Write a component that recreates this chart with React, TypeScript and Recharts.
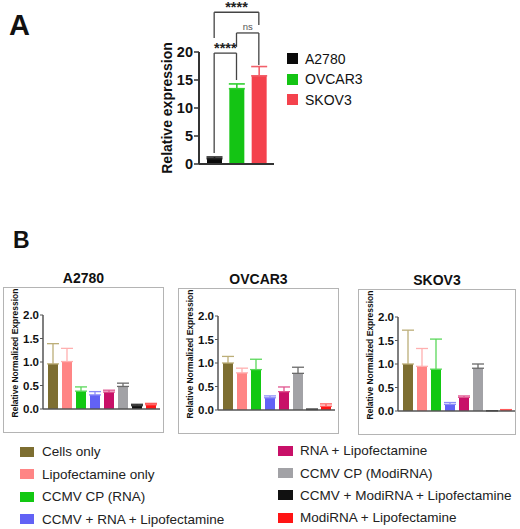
import { BarChart, Bar, XAxis, YAxis, ErrorBar, ReferenceLine } from "recharts";

const FONT = "'Liberation Sans', Arial, Helvetica, sans-serif";

// ---- panel A: relative expression per cell line
const cellLines = ["A2780", "OVCAR3", "SKOV3"];
const cellLineExpression = [0.95, 13.45, 15.75];
const cellLineSem = [0.3, 0.85, 1.65];
const cellLineColors = ["#0a0a0a", "#14c414", "#f4424d"];
const cellLineErrColors = ["#222222", "#2fd02f", "#f2606a"];
const expressionTicks = [0, 5, 10, 15, 20];

// significance brackets (y in data units)
const brackets = [
  { from: "A2780", to: "SKOV3", y: 27.1, leftEnd: 22.5, rightEnd: 24.8, text: "****" },
  { from: "OVCAR3", to: "SKOV3", y: 23.4, leftEnd: 20.9, rightEnd: 17.7, text: "ns" },
  { from: "A2780", to: "OVCAR3", y: 19.8, leftEnd: 1.96, rightEnd: 15.0, text: "****" },
];

// ---- panel B: normalized expression per treatment
const treatments = [
  "Cells only",
  "Lipofectamine only",
  "CCMV CP (RNA)",
  "CCMV + RNA + Lipofectamine",
  "RNA + Lipofectamine",
  "CCMV CP (ModiRNA)",
  "CCMV + ModiRNA + Lipofectamine",
  "ModiRNA + Lipofectamine",
];
const treatmentColors = ["#7d6e31", "#ff8585", "#12c812", "#6262f5", "#c81068", "#a2a2a6", "#111111", "#ff1414"];
const treatmentErrColors = ["#bcae78", "#ffb0b0", "#5ad85a", "#8c8cf8", "#e0548f", "#6a6a6a", "#333333", "#ff5a5a"];

const a2780Values = [0.96, 1.01, 0.38, 0.3, 0.36, 0.48, 0.07, 0.09];
const a2780Sem = [0.43, 0.28, 0.09, 0.07, 0.04, 0.07, 0.03, 0.03];
const ovcar3Values = [1.0, 0.79, 0.86, 0.26, 0.39, 0.78, 0.01, 0.08];
const ovcar3Sem = [0.14, 0.1, 0.22, 0.04, 0.1, 0.13, 0.01, 0.05];
const skov3Values = [1.0, 0.95, 0.89, 0.14, 0.29, 0.91, 0.005, 0.02];
const skov3Sem = [0.72, 0.38, 0.64, 0.04, 0.03, 0.09, 0.003, 0.01];
const normTicks = [0, 0.5, 1, 1.5, 2];

// one key per category so every bar gets its own colour and error bar colour
function buildRows(names: string[], values: number[], sems: number[]) {
  return names.map((name, i) => {
    const row: Record<string, unknown> = { name };
    row["v" + i] = values[i];
    row["e" + i] = [0, sems[i]];
    return row;
  });
}

function PanelB({ title, left, top, width, values, sems }: {
  title: string; left: number; top: number; width: number; values: number[]; sems: number[];
}) {
  const rows = buildRows(treatments, values, sems);
  return (
    <>
      <div style={{ position: "absolute", left, top: top - 17, width, textAlign: "center", fontSize: 14, fontWeight: 700, lineHeight: "16px", color: "#111" }}>
        {title}
      </div>
      <div style={{ position: "absolute", left, top, width, height: 146, border: "1px solid #b4b4b4", boxSizing: "border-box" }}>
        <div style={{ position: "absolute", left: 11, top: 65, transform: "translate(-50%,-50%) rotate(-90deg)", whiteSpace: "nowrap", fontSize: 8.5, fontWeight: 700, color: "#111" }}>
          Relative Normalized Expression
        </div>
        <div style={{ position: "absolute", left: -1, top: -1 }}>
          <BarChart width={width} height={146} data={rows} margin={{ top: 28, right: width - 157, bottom: 20, left: 0 }}>
            <XAxis dataKey="name" type="category" tick={false} tickLine={false} height={4}
              axisLine={{ stroke: "#555", strokeWidth: 1.5 }} padding={{ left: 3, right: 2 }} />
            <YAxis width={40} domain={[0, 2]} ticks={normTicks} interval={0}
              tickFormatter={(v: number) => v.toFixed(1)} tickSize={3} tickMargin={1}
              tick={{ fontSize: 11.5, fontWeight: 700, fill: "#111" }}
              axisLine={{ stroke: "#555", strokeWidth: 1.5 }} tickLine={{ stroke: "#555" }} />
            {treatments.map((t, i) => (
              <Bar key={t} dataKey={"v" + i} stackId="s" fill={treatmentColors[i]} barSize={10} isAnimationActive={false}>
                <ErrorBar dataKey={"e" + i} width={6} stroke={treatmentErrColors[i]} strokeWidth={1.3} direction="y" isAnimationActive={false} />
              </Bar>
            ))}
          </BarChart>
        </div>
      </div>
    </>
  );
}

export default function App() {
  const rowsA = buildRows(cellLines, cellLineExpression, cellLineSem);

  return (
    <div style={{ position: "absolute", left: 0, top: 0, width: 520, height: 529, background: "#fff", fontFamily: FONT, color: "#111", overflow: "hidden" }}>
      <div style={{ position: "absolute", left: 9, top: 11, fontSize: 29, fontWeight: 700, lineHeight: "29px" }}>A</div>

      <div style={{ position: "absolute", left: 150, top: 0 }}>
        <BarChart width={130} height={175} data={rowsA} margin={{ top: 52, right: 6, bottom: 6, left: 0 }}>
          <XAxis dataKey="name" type="category" tick={false} tickLine={false} height={5}
            axisLine={{ stroke: "#333", strokeWidth: 2 }} padding={{ left: 4, right: 4 }} />
          <YAxis width={49} domain={[0, 20]} ticks={expressionTicks} interval={0} tickSize={5} tickMargin={1}
            tick={{ fontSize: 14.5, fontWeight: 700, fill: "#111" }}
            axisLine={{ stroke: "#333", strokeWidth: 2 }} tickLine={{ stroke: "#333", strokeWidth: 1.5 }}
            label={{ value: "Relative expression", angle: -90, position: "insideLeft", offset: 17, style: { textAnchor: "middle", fontSize: 14, fontWeight: 700, fill: "#111" } }} />
          {cellLines.map((c, i) => (
            <Bar key={c} dataKey={"v" + i} stackId="s" fill={cellLineColors[i]} barSize={15} isAnimationActive={false}>
              <ErrorBar dataKey={"e" + i} width={8} stroke={cellLineErrColors[i]} strokeWidth={1.6} direction="y" isAnimationActive={false} />
            </Bar>
          ))}
          {brackets.map((b, i) => (
            <ReferenceLine key={"h" + i} ifOverflow="visible" stroke="#444" strokeWidth={1.3}
              segment={[{ x: b.from, y: b.y }, { x: b.to, y: b.y }]}
              label={{ value: b.text, position: "top", offset: b.text === "ns" ? 3 : 0, fill: b.text === "ns" ? "#555" : "#222", fontSize: b.text === "ns" ? 9.5 : 14.5, fontWeight: b.text === "ns" ? 400 : 700 }} />
          ))}
          {brackets.map((b, i) => (
            <ReferenceLine key={"l" + i} ifOverflow="visible" stroke="#444" strokeWidth={1.3}
              segment={[{ x: b.from, y: b.y }, { x: b.from, y: b.leftEnd }]} />
          ))}
          {brackets.map((b, i) => (
            <ReferenceLine key={"r" + i} ifOverflow="visible" stroke="#444" strokeWidth={1.3}
              segment={[{ x: b.to, y: b.y }, { x: b.to, y: b.rightEnd }]} />
          ))}
        </BarChart>
      </div>

      <div style={{ position: "absolute", left: 287, top: 48.5 }}>
        {cellLines.map((c, i) => (
          <div key={c} style={{ display: "flex", alignItems: "center", height: 20.5 }}>
            <div style={{ width: 11, height: 11, background: cellLineColors[i], marginRight: 7 }} />
            <span style={{ fontSize: 14 }}>{c}</span>
          </div>
        ))}
      </div>

      <div style={{ position: "absolute", left: 13, top: 229, fontSize: 23, fontWeight: 700, lineHeight: "23px" }}>B</div>

      <PanelB title="A2780" left={3} top={287} width={161} values={a2780Values} sems={a2780Sem} />
      <PanelB title="OVCAR3" left={178} top={288} width={161} values={ovcar3Values} sems={ovcar3Sem} />
      <PanelB title="SKOV3" left={358} top={289} width={158} values={skov3Values} sems={skov3Sem} />

      <div style={{ position: "absolute", left: 20, top: 440.5 }}>
        {treatments.slice(0, 4).map((t, i) => (
          <div key={t} style={{ display: "flex", alignItems: "center", height: 22.5 }}>
            <div style={{ width: 14, height: 10, background: treatmentColors[i], marginRight: 8 }} />
            <span style={{ fontSize: 13.5, color: "#222" }}>{t}</span>
          </div>
        ))}
      </div>
      <div style={{ position: "absolute", left: 278, top: 439.5 }}>
        {treatments.slice(4).map((t, i) => (
          <div key={t} style={{ display: "flex", alignItems: "center", height: 22.4 }}>
            <div style={{ width: 15, height: 10, background: treatmentColors[i + 4], marginRight: 7 }} />
            <span style={{ fontSize: 13.5, color: "#222" }}>{t}</span>
          </div>
        ))}
      </div>
    </div>
  );
}
